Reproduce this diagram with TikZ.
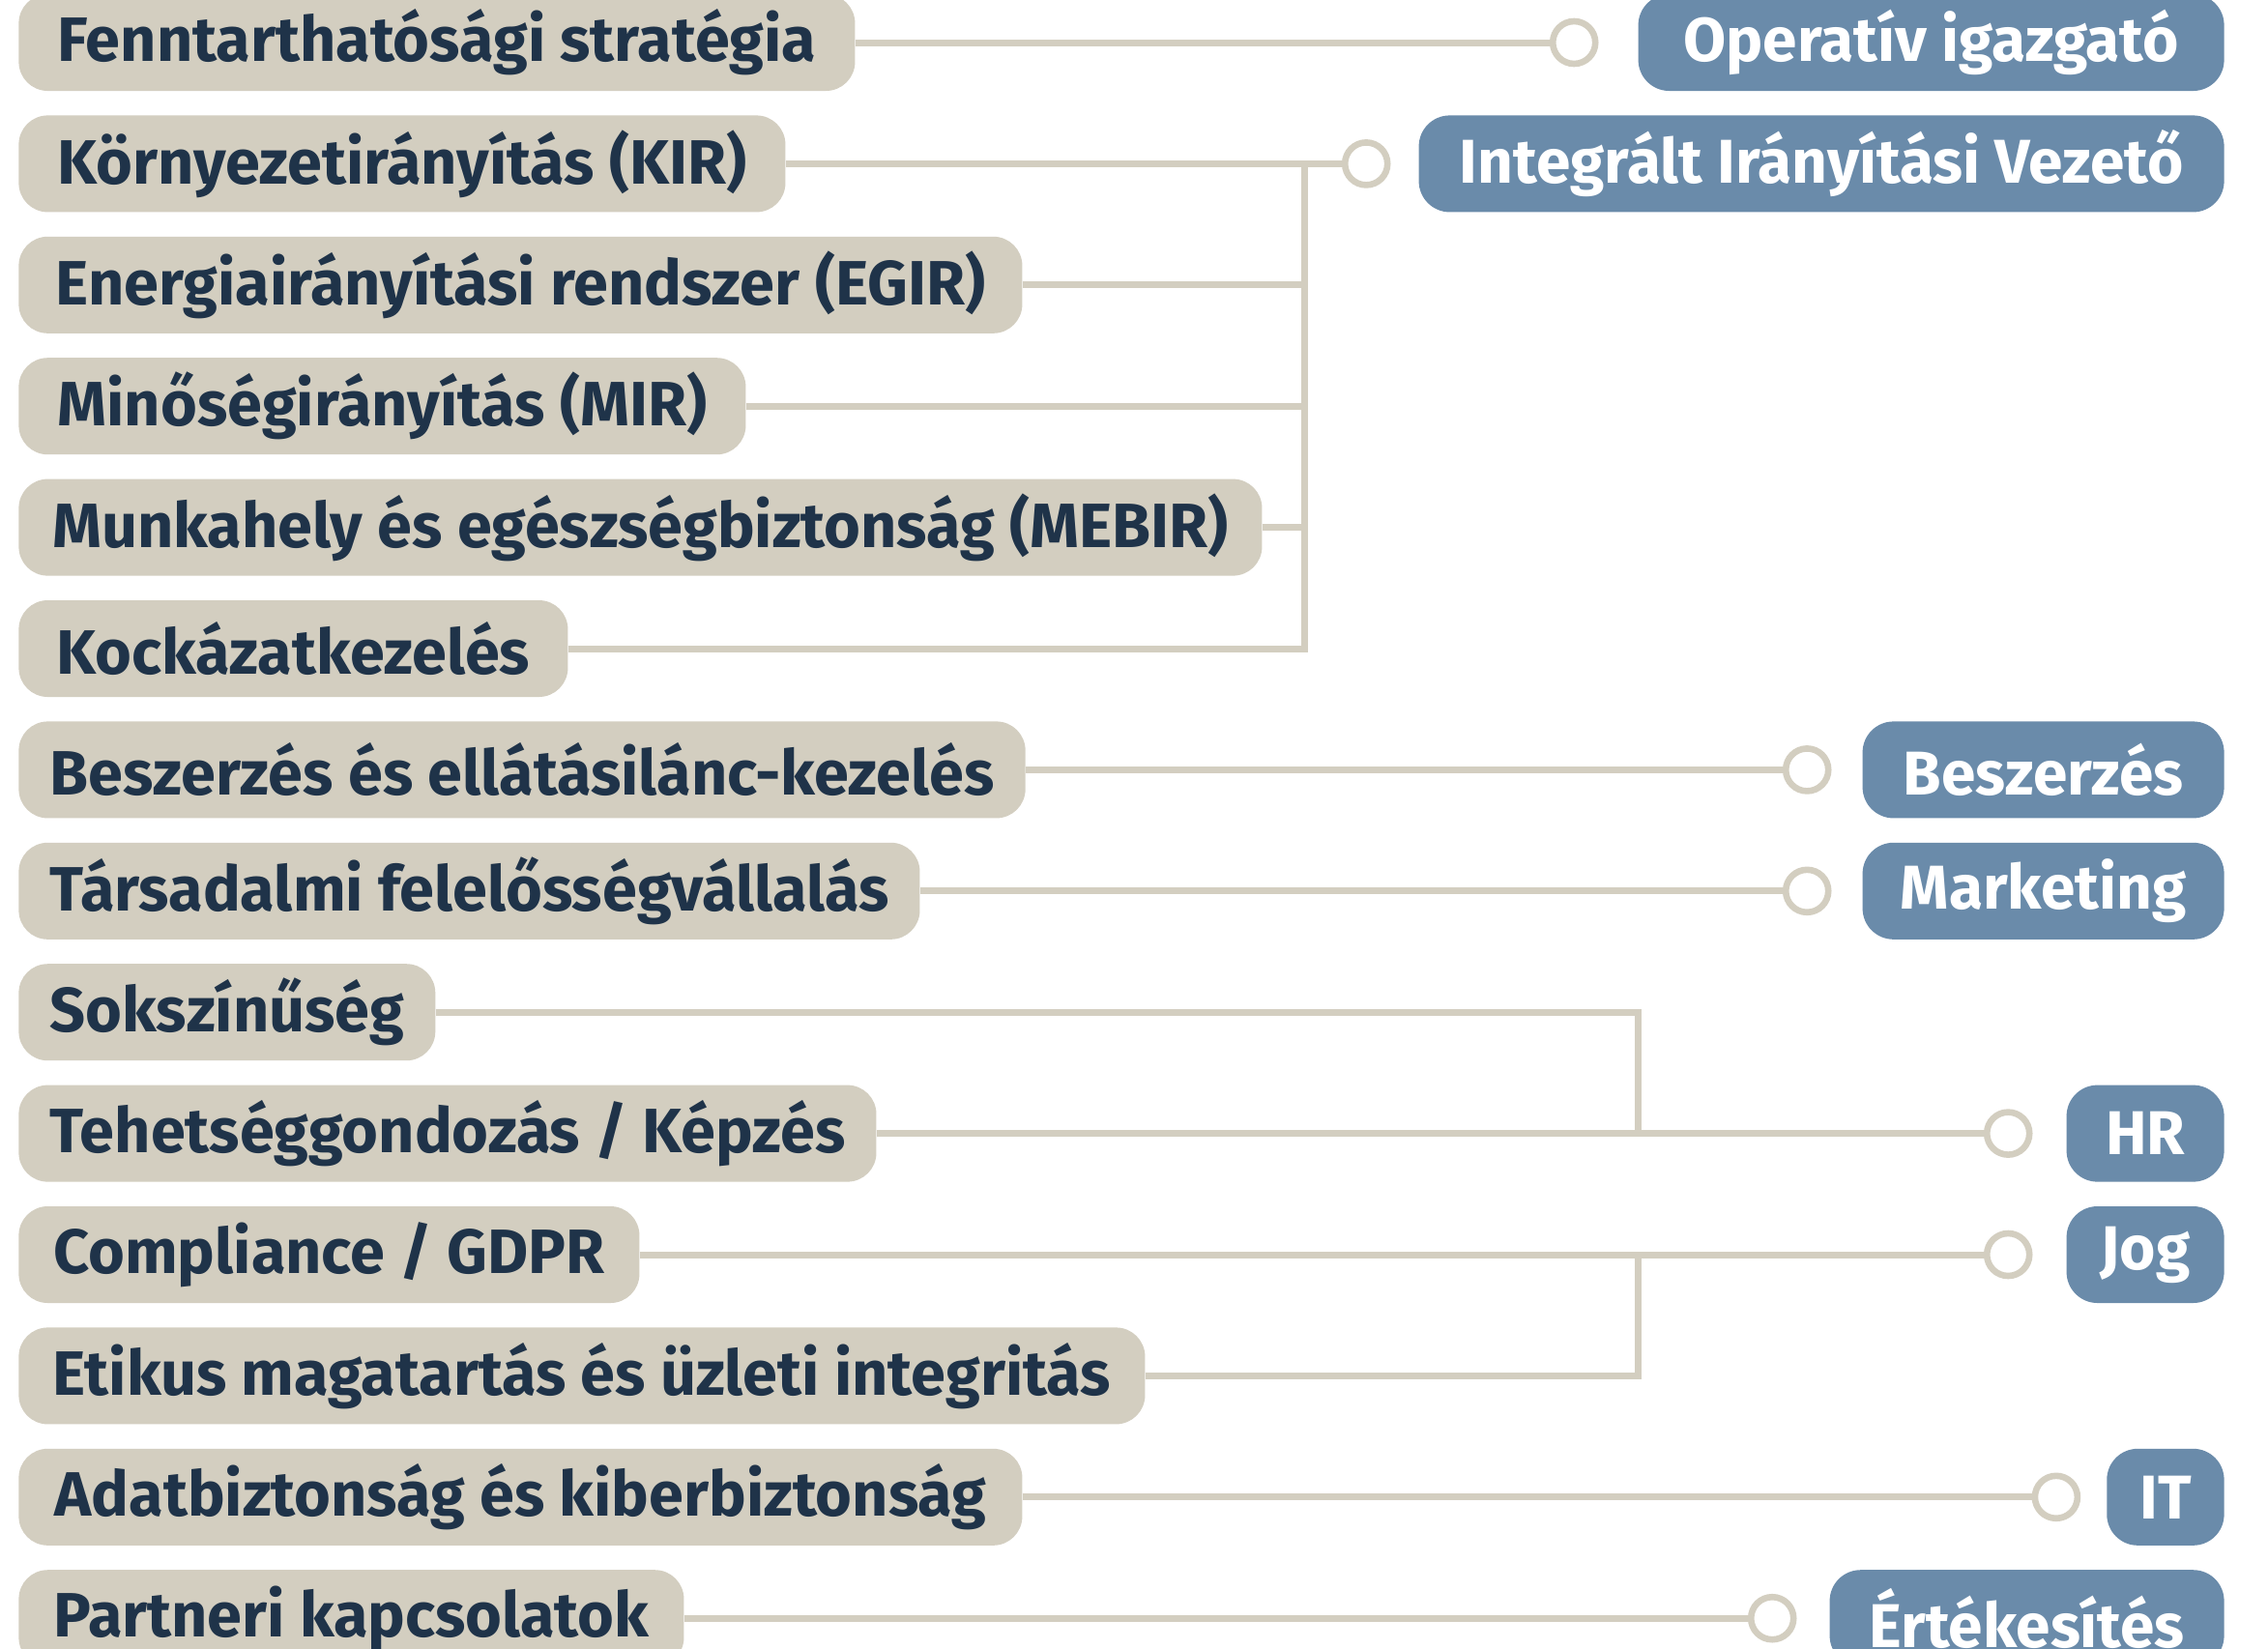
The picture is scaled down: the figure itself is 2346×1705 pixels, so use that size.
\documentclass[tikz,border=0pt]{standalone}
\usepackage{fontspec}
\setmainfont{Fira Sans}
\definecolor{tan}{HTML}{D3CEC0}
\definecolor{ink}{HTML}{1F3349}
\definecolor{slate}{HTML}{6A8BAA}
\begin{document}
\begin{tikzpicture}[x=0.5pt,y=-0.5pt,
  topic/.style={fill=tan, text=ink, rounded corners=15pt, minimum height=50pt,
    inner xsep=16pt, inner ysep=0pt, anchor=west,
    font=\bfseries\fontsize{32.4pt}{38pt}\selectfont},
  owner/.style={fill=slate, text=white, rounded corners=16pt, minimum height=50pt,
    inner xsep=17pt, inner ysep=0pt, anchor=east,
    font=\bfseries\fontsize{32pt}{38pt}\selectfont},
  dot/.style={circle, draw=tan, line width=3.3pt, fill=white, minimum size=22pt, inner sep=0pt},
  conn/.style={draw=tan, line width=3.5pt, line join=miter}]
\useasboundingbox (0,0) rectangle (2346,1705);
\fill[white] (0,0) rectangle (2346,1705);

% left topics
\node[topic, minimum width=432.5pt] (t0) at (19,44) {Fenntarthatósági stratégia};
\node[topic, minimum width=396.5pt] (t1) at (19,169.4) {Környezetirányítás (KIR)};
\node[topic, minimum width=519pt] (t2) at (19,294.8) {Energiairányítási rendszer (EGIR)};
\node[topic, minimum width=376pt] (t3) at (19,420.2) {Minőségirányítás (MIR)};
\node[topic, minimum width=643pt] (t4) at (19,545.6) {Munkahely és egészségbiztonság (MEBIR)};
\node[topic, minimum width=284pt] (t5) at (19,671) {Kockázatkezelés};
\node[topic, minimum width=519pt] (t6) at (19,796.4) {Beszerzés és ellátásilánc-kezelés};
\node[topic, minimum width=463pt] (t7) at (19,921.8) {Társadalmi felelősségvállalás};
\node[topic, minimum width=212.5pt] (t8) at (19,1047.2) {Sokszínűség};
\node[topic, minimum width=440.5pt] (t9) at (19,1172.6) {Tehetséggondozás / Képzés};
\node[topic, minimum width=321pt] (t10) at (19,1298) {Compliance / GDPR};
\node[topic, minimum width=582.5pt] (t11) at (19,1423.4) {Etikus magatartás és üzleti integritás};
\node[topic, minimum width=519pt] (t12) at (19,1548.8) {Adatbiztonság és kiberbiztonság};
\node[topic, minimum width=344pt] (t13) at (19,1674.2) {Partneri kapcsolatok};

% right owners
\node[owner, minimum width=303pt] (o0) at (2301,44) {Operatív igazgató};
\node[owner, minimum width=416.5pt] (o1) at (2301,169.4) {Integrált Irányítási Vezető};
\node[owner, minimum width=187pt] (o6) at (2301,796.4) {Beszerzés};
\node[owner, minimum width=187pt] (o7) at (2301,921.8) {Marketing};
\node[owner, minimum width=81.5pt] (o9) at (2301,1172.6) {HR};
\node[owner, minimum width=81.5pt] (o10) at (2301,1298) {Jog};
\node[owner, minimum width=60.5pt] (o12) at (2301,1548.8) {IT};
\node[owner, minimum width=204pt] (o13) at (2301,1674.2) {Értékesítés};

% bus coordinates
\coordinate (busA) at (1349,0);
\coordinate (busB) at (1694,0);

% circle positions, left of each owner box
\path (o0.west) ++(-33pt,0) coordinate (p0);
\path (o1.west) ++(-27pt,0) coordinate (p1);
\path (o6.west) ++(-28.5pt,0) coordinate (p6);
\path (o7.west) ++(-28.5pt,0) coordinate (p7);
\path (o9.west) ++(-30pt,0) coordinate (p9);
\path (o10.west) ++(-30pt,0) coordinate (p10);
\path (o12.west) ++(-26pt,0) coordinate (p12);
\path (o13.west) ++(-29.5pt,0) coordinate (p13);

\draw[conn] (t0.east) -- (p0);
\draw[conn] (t1.east) -- (p1);
\draw[conn] (t5.east) -| (t1.east -| busA);
\draw[conn] (t2.east) -- (t2.east -| busA);
\draw[conn] (t3.east) -- (t3.east -| busA);
\draw[conn] (t4.east) -- (t4.east -| busA);
\draw[conn] (t6.east) -- (p6);
\draw[conn] (t7.east) -- (p7);
\draw[conn] (t8.east) -| (t9.east -| busB);
\draw[conn] (t9.east) -- (p9);
\draw[conn] (t10.east) -- (p10);
\draw[conn] (t11.east) -| (t10.east -| busB);
\draw[conn] (t12.east) -- (p12);
\draw[conn] (t13.east) -- (p13);

\node[dot] (c0) at (p0) {};
\node[dot] (c1) at (p1) {};
\node[dot] (c6) at (p6) {};
\node[dot] (c7) at (p7) {};
\node[dot] (c9) at (p9) {};
\node[dot] (c10) at (p10) {};
\node[dot] (c12) at (p12) {};
\node[dot] (c13) at (p13) {};
\end{tikzpicture}
\end{document}
